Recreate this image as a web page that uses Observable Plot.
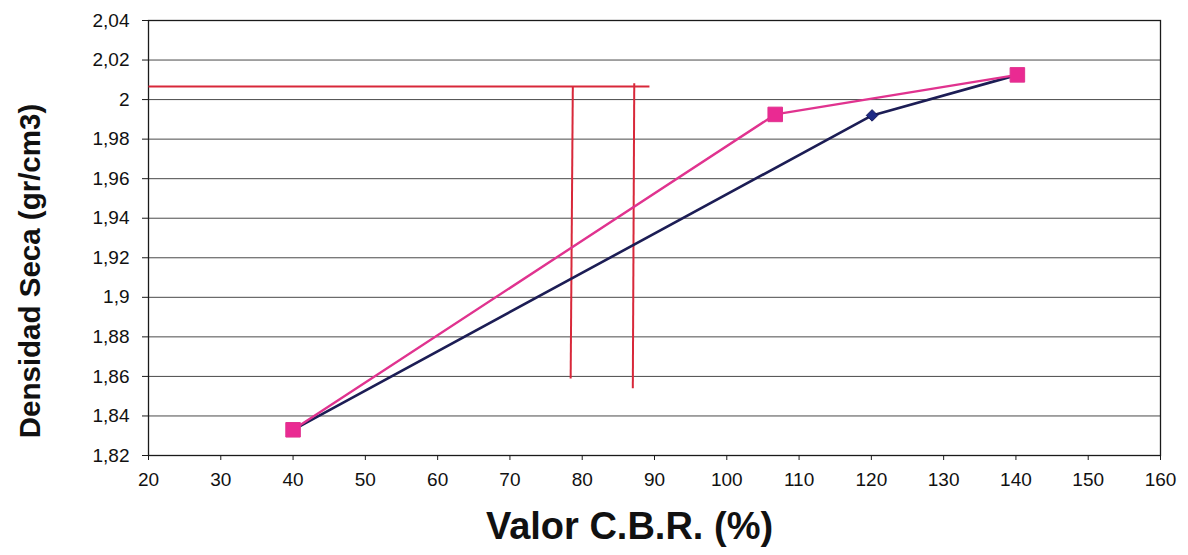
<!DOCTYPE html>
<html>
<head>
<meta charset="utf-8">
<script src="https://cdn.jsdelivr.net/npm/d3@7"></script>
<script src="https://cdn.jsdelivr.net/npm/@observablehq/plot@0.6"></script>
<style>
  html, body { margin: 0; padding: 0; background: #ffffff; }
  #chart { width: 1188px; height: 555px; }
  svg { font-family: "Liberation Sans", Arial, sans-serif; }
</style>
</head>
<body>
<div id="chart"></div>
<script>
// Series A (navy, diamonds)
const seriesA_x = [40, 120.1, 140.2];
const seriesA_y = [1.833, 1.992, 2.0125];
// Series B (magenta, squares)
const seriesB_x = [40, 106.7, 140.2];
const seriesB_y = [1.833, 1.9925, 2.0125];
// Hand-drawn red reference lines: [x1, y1, x2, y2]
const refLines = [
  [20, 2.0066, 89.3, 2.0066],
  [78.7, 2.0066, 78.4, 1.859],
  [87.2, 2.0083, 87.0, 1.854]
];
// Axis ticks
const xTicks = [20, 30, 40, 50, 60, 70, 80, 90, 100, 110, 120, 130, 140, 150, 160];
const yTicks = [1.82, 1.84, 1.86, 1.88, 1.90, 1.92, 1.94, 1.96, 1.98, 2.00, 2.02, 2.04];
const yTickLabels = ["1,82", "1,84", "1,86", "1,88", "1,9", "1,92", "1,94", "1,96", "1,98", "2", "2,02", "2,04"];
const xTitle = "Valor C.B.R. (%)";
const yTitle = "Densidad Seca (gr/cm3)";

const dataA = seriesA_x.map((x, i) => ({x, y: seriesA_y[i]}));
const dataB = seriesB_x.map((x, i) => ({x, y: seriesB_y[i]}));
const refData = refLines.map(([x1, y1, x2, y2]) => ({x1, y1, x2, y2}));
const yLabelMap = new Map(yTicks.map((t, i) => [t, yTickLabels[i]]));

const chart = Plot.plot({
  width: 1188,
  height: 555,
  marginLeft: 148,
  marginRight: 28,
  marginTop: 20,
  marginBottom: 100,
  style: {fontFamily: '"Liberation Sans", Arial, sans-serif', background: "#ffffff", color: "#111"},
  x: {domain: [20, 160]},
  y: {domain: [1.82, 2.04]},
  marks: [
    Plot.gridY(yTicks, {stroke: "#2a2a2a", strokeOpacity: 0.85, strokeWidth: 1}),
    Plot.frame({stroke: "#1a1a1a", strokeWidth: 1.3}),
    Plot.axisY(yTicks, {
      tickSize: 6, tickPadding: 13, fontSize: 19, label: null,
      tickFormat: d => yLabelMap.get(d), stroke: "#1a1a1a"
    }),
    Plot.axisX(xTicks, {
      tickSize: 5, tickPadding: 12, fontSize: 19, label: null, stroke: "#1a1a1a"
    }),
    Plot.link(refData, {x1: "x1", y1: "y1", x2: "x2", y2: "y2", stroke: "#d8283a", strokeWidth: 2}),
    Plot.line(dataA, {x: "x", y: "y", stroke: "#1c1d55", strokeWidth: 2.6}),
    Plot.line(dataB, {x: "x", y: "y", stroke: "#e0338f", strokeWidth: 2.4}),
    Plot.dot(dataA, {x: "x", y: "y", symbol: "diamond2", r: 5.2, fill: "#1d2a86", stroke: "#14185a", strokeWidth: 1}),
    Plot.dot(dataB, {x: "x", y: "y", symbol: "square", r: 8.2, fill: "#ea2a92", stroke: "#e0338f", strokeWidth: 1}),
    Plot.text([xTitle], {frameAnchor: "bottom", textAnchor: "middle", dx: -25, dy: 71, lineAnchor: "middle",
      fontSize: 38, fontWeight: "bold", fill: "#111"}),
    Plot.text([yTitle], {frameAnchor: "left", textAnchor: "middle", dx: -118, dy: 33, rotate: -90, lineAnchor: "middle",
      fontSize: 29.5, fontWeight: "bold", fill: "#111"})
  ]
});
document.getElementById("chart").appendChild(chart);
</script>
</body>
</html>
